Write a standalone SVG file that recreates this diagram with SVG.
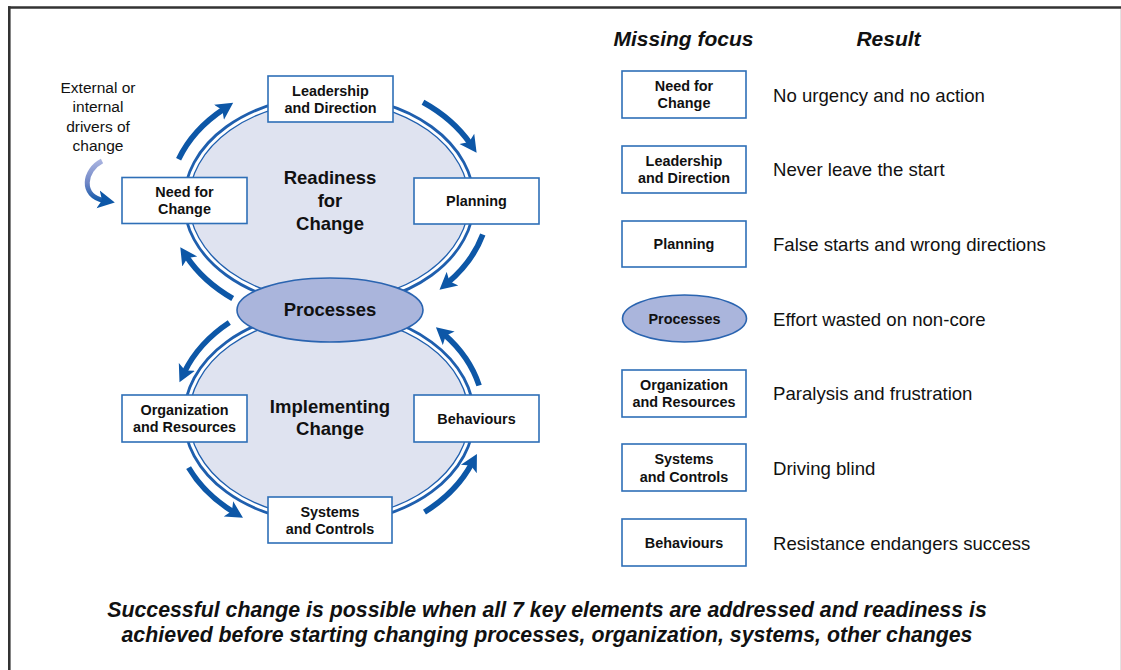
<svg xmlns="http://www.w3.org/2000/svg" width="1121" height="670" viewBox="0 0 1121 670">
<style>
.bx{fill:#fff;stroke:#2e6fb7;stroke-width:1.6}
.t{font-family:"Liberation Sans",Arial,Helvetica,sans-serif;text-anchor:middle;fill:#111}
.bt{font-size:14.4px;font-weight:bold}
.ct{font-size:18.5px;font-weight:bold}
.rt{font-family:"Liberation Sans",Arial,Helvetica,sans-serif;font-size:18.6px;fill:#111}
.hd{font-size:21px;font-weight:bold;font-style:italic}
.ft{font-size:21.3px;font-weight:bold;font-style:italic}
.arr{fill:none;stroke:#0d57a7;stroke-width:5.6;marker-end:url(#ah)}
.outer{fill:#fff;stroke:#1f5fae;stroke-width:2.8}
.inner{fill:#dfe3f0;stroke:#1f5fae;stroke-width:1.3}
.proc{fill:#aab5dc;stroke:#2a64b0;stroke-width:1.6}
</style>
<defs>
<marker id="ah" markerUnits="userSpaceOnUse" markerWidth="20" markerHeight="20" viewBox="0 0 20 20" refX="6" refY="10" orient="auto">
<path d="M0,1 L17,10 L0,19 L4,10 z" fill="#0d57a7"/>
</marker>
<linearGradient id="drv" gradientUnits="userSpaceOnUse" x1="0" y1="160" x2="0" y2="202">
<stop offset="0" stop-color="#aab4e0"/>
<stop offset="0.55" stop-color="#6f86c6"/>
<stop offset="1" stop-color="#0d57a7"/>
</linearGradient>
</defs>
<rect x="0" y="0" width="1121" height="670" fill="#fff"/>
<g id="frame">
<line x1="8" y1="7.5" x2="1121" y2="7.5" stroke="#333" stroke-width="2.6"/>
<line x1="9.3" y1="6.2" x2="9.3" y2="670" stroke="#333" stroke-width="2.6"/>
<line x1="1120.5" y1="9" x2="1120.5" y2="670" stroke="#e2e2e2" stroke-width="1"/>
</g>
<g id="readiness">
<ellipse class="outer" cx="329" cy="201" rx="145" ry="105"/>
<ellipse class="inner" cx="329" cy="201" rx="140" ry="100"/>
<text class="t ct" x="330" y="184">Readiness</text>
<text class="t ct" x="330" y="207">for</text>
<text class="t ct" x="330" y="230">Change</text>
</g>
<g id="implementing">
<ellipse class="outer" cx="329" cy="417" rx="145" ry="106"/>
<ellipse class="inner" cx="329" cy="417" rx="140" ry="101"/>
<text class="t ct" x="330" y="413">Implementing</text>
<text class="t ct" x="330" y="435">Change</text>
</g>
<g id="processes">
<ellipse class="proc" cx="330" cy="310" rx="93" ry="32"/>
<text class="t ct" x="330" y="316">Processes</text>
</g>
<g id="leadership">
<rect class="bx" x="268" y="76" width="125" height="46"/>
<text class="t bt" x="330.5" y="96">Leadership</text>
<text class="t bt" x="330.5" y="113">and Direction</text>
</g>
<g id="need">
<rect class="bx" x="122" y="177.5" width="125" height="46"/>
<text class="t bt" x="184.5" y="197">Need for</text>
<text class="t bt" x="184.5" y="214">Change</text>
</g>
<g id="planning">
<rect class="bx" x="414" y="178" width="125" height="46"/>
<text class="t bt" x="476.5" y="206">Planning</text>
</g>
<g id="organization">
<rect class="bx" x="122" y="395" width="125" height="47"/>
<text class="t bt" x="184.5" y="415">Organization</text>
<text class="t bt" x="184.5" y="432">and Resources</text>
</g>
<g id="behaviours">
<rect class="bx" x="414" y="395" width="125" height="47"/>
<text class="t bt" x="476.5" y="424">Behaviours</text>
</g>
<g id="systems">
<rect class="bx" x="268" y="497" width="124" height="46"/>
<text class="t bt" x="330" y="517">Systems</text>
<text class="t bt" x="330" y="534">and Controls</text>
</g>
<g id="drivers">
<text class="t" font-size="15.5" x="98" y="92.5">External or</text>
<text class="t" font-size="15.5" x="98" y="112">internal</text>
<text class="t" font-size="15.5" x="98" y="131.5">drivers of</text>
<text class="t" font-size="15.5" x="98" y="150.5">change</text>
</g>
<g id="connectors">
<path class="arr" d="M178.6,159.3 A160 122 0 0 1 224,108.9"/>
<path class="arr" d="M423,102.3 A160 122 0 0 1 470.3,143.7"/>
<path class="arr" d="M482.8,234.6 A160 122 0 0 1 447.9,282.6"/>
<path class="arr" d="M232.7,298.5 A160 122 0 0 1 186.4,256.4"/>
<path class="arr" d="M229.3,322.5 A155 122 0 0 0 184.3,372.3"/>
<path class="arr" d="M188.6,467.6 A155 122 0 0 0 233.6,512.1"/>
<path class="arr" d="M424.5,512.1 A155 122 0 0 0 471.7,463.7"/>
<path class="arr" d="M479.1,385.5 A155 122 0 0 0 444.2,334.4"/>
<path d="M102,161 C84,170 80,196 104,200.5" fill="none" stroke="url(#drv)" stroke-width="5" marker-end="url(#ah)"/>
</g>
<g id="table">
<text class="t hd" x="683.5" y="45.5">Missing focus</text>
<text class="t hd" x="888.5" y="45.5">Result</text>
<g id="r-need">
<rect class="bx" x="622" y="71" width="124" height="47"/>
<text class="t bt" x="684" y="91">Need for</text>
<text class="t bt" x="684" y="108">Change</text>
<text class="rt" x="773" y="101.5">No urgency and no action</text>
</g>
<g id="r-leadership">
<rect class="bx" x="622" y="146" width="124" height="47"/>
<text class="t bt" x="684" y="166">Leadership</text>
<text class="t bt" x="684" y="183">and Direction</text>
<text class="rt" x="773" y="175.5">Never leave the start</text>
</g>
<g id="r-planning">
<rect class="bx" x="622" y="221" width="124" height="46"/>
<text class="t bt" x="684" y="249">Planning</text>
<text class="rt" x="773" y="250.5">False starts and wrong directions</text>
</g>
<g id="r-processes">
<ellipse class="proc" cx="684.5" cy="318.5" rx="62" ry="23.5"/>
<text class="t bt" x="684.5" y="324">Processes</text>
<text class="rt" x="773" y="325.5">Effort wasted on non-core</text>
</g>
<g id="r-organization">
<rect class="bx" x="622" y="370" width="124" height="47"/>
<text class="t bt" x="684" y="389.5">Organization</text>
<text class="t bt" x="684" y="407">and Resources</text>
<text class="rt" x="773" y="399.5">Paralysis and frustration</text>
</g>
<g id="r-systems">
<rect class="bx" x="622" y="444" width="124" height="47"/>
<text class="t bt" x="684" y="464">Systems</text>
<text class="t bt" x="684" y="482">and Controls</text>
<text class="rt" x="773" y="474.5">Driving blind</text>
</g>
<g id="r-behaviours">
<rect class="bx" x="622" y="519" width="124" height="47"/>
<text class="t bt" x="684" y="548">Behaviours</text>
<text class="rt" x="773" y="549.5">Resistance endangers success</text>
</g>
</g>
<g id="footer">
<text class="t ft" x="547" y="616.5">Successful change is possible when all 7 key elements are addressed and readiness is</text>
<text class="t ft" x="547" y="641.5">achieved before starting changing processes, organization, systems, other changes</text>
</g>
</svg>
